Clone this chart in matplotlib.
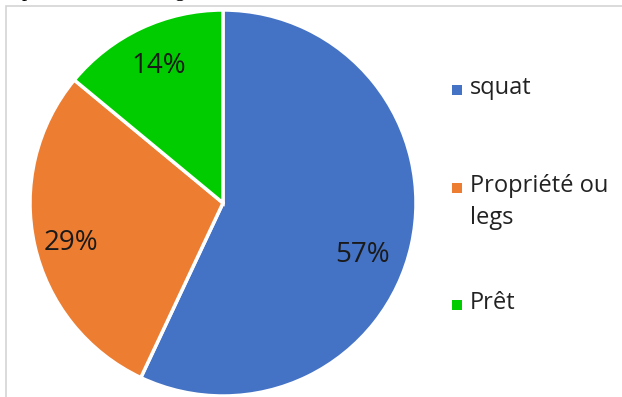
import numpy as np
import matplotlib.pyplot as plt
from matplotlib.patches import Rectangle

# données
labels = ['squat', 'Propriété ou\nlegs', 'Prêt']
values = [57, 29, 14]
colors = ['#4472C4', '#ED7D31', '#00CC00']

W, H = 622, 397
fig = plt.figure(figsize=(W / 100, H / 100), dpi=100)
fig.patch.set_facecolor('white')

# cadre gris du graphique (coupé à droite et en bas)
fig.patches.append(Rectangle((6 / W, -0.05), 1.2, 1 - 6 / H + 0.05,
                             transform=fig.transFigure, fill=False,
                             edgecolor='#d4d4d4', linewidth=1.2))

# bouts de texte coupés en haut de la capture
fig.text(22 / W, 1 + 4 / H, 'p', family='Liberation Serif', fontsize=15,
         va='baseline', color='black')
fig.text(174 / W, 1 + 4 / H, 'g', family='Liberation Serif', fontsize=15,
         va='baseline', color='black')

# camembert : centre (223, 203) px, rayon 193 px
cx, cy, r = 223, 203, 193
ax = fig.add_axes([(cx - r) / W, (H - cy - r) / H, 2 * r / W, 2 * r / H])

wedges, texts, autotexts = ax.pie(values, colors=colors, startangle=90,
                                  counterclock=False, radius=1,
                                  autopct='%d%%', pctdistance=0.79,
                                  wedgeprops={'linewidth': 2.5, 'edgecolor': 'white'},
                                  textprops={'fontsize': 20, 'family': 'Open Sans',
                                             'color': '#1a1a1a'})
ax.set_xlim(-1, 1)
ax.set_ylim(-1, 1)
ax.axis('off')

# placement des pourcentages comme dans Excel (décalage d'angle / distance)
shift = [(-8, 0.77), (2, 0.815), (0, 0.785)]
for w, t, (da, d) in zip(wedges, autotexts, shift):
    a = np.deg2rad((w.theta1 + w.theta2) / 2 + da)
    t.set_position((d * np.cos(a), d * np.sin(a)))

# légende à la main (étiquette sur deux lignes alignée en haut)
leg_y = [90, 188, 305]
for lab, col, y in zip(labels, colors, leg_y):
    fig.patches.append(Rectangle((452 / W, 1 - (y + 5) / H), 10 / W, 10 / H,
                                 transform=fig.transFigure, facecolor=col,
                                 edgecolor='none'))
    fig.text(470 / W, 1 - (y - 14) / H, lab, family='Open Sans', fontsize=17,
             va='top', ha='left', color='#222222', linespacing=1.45)

fig.savefig('out.png', dpi=100)
